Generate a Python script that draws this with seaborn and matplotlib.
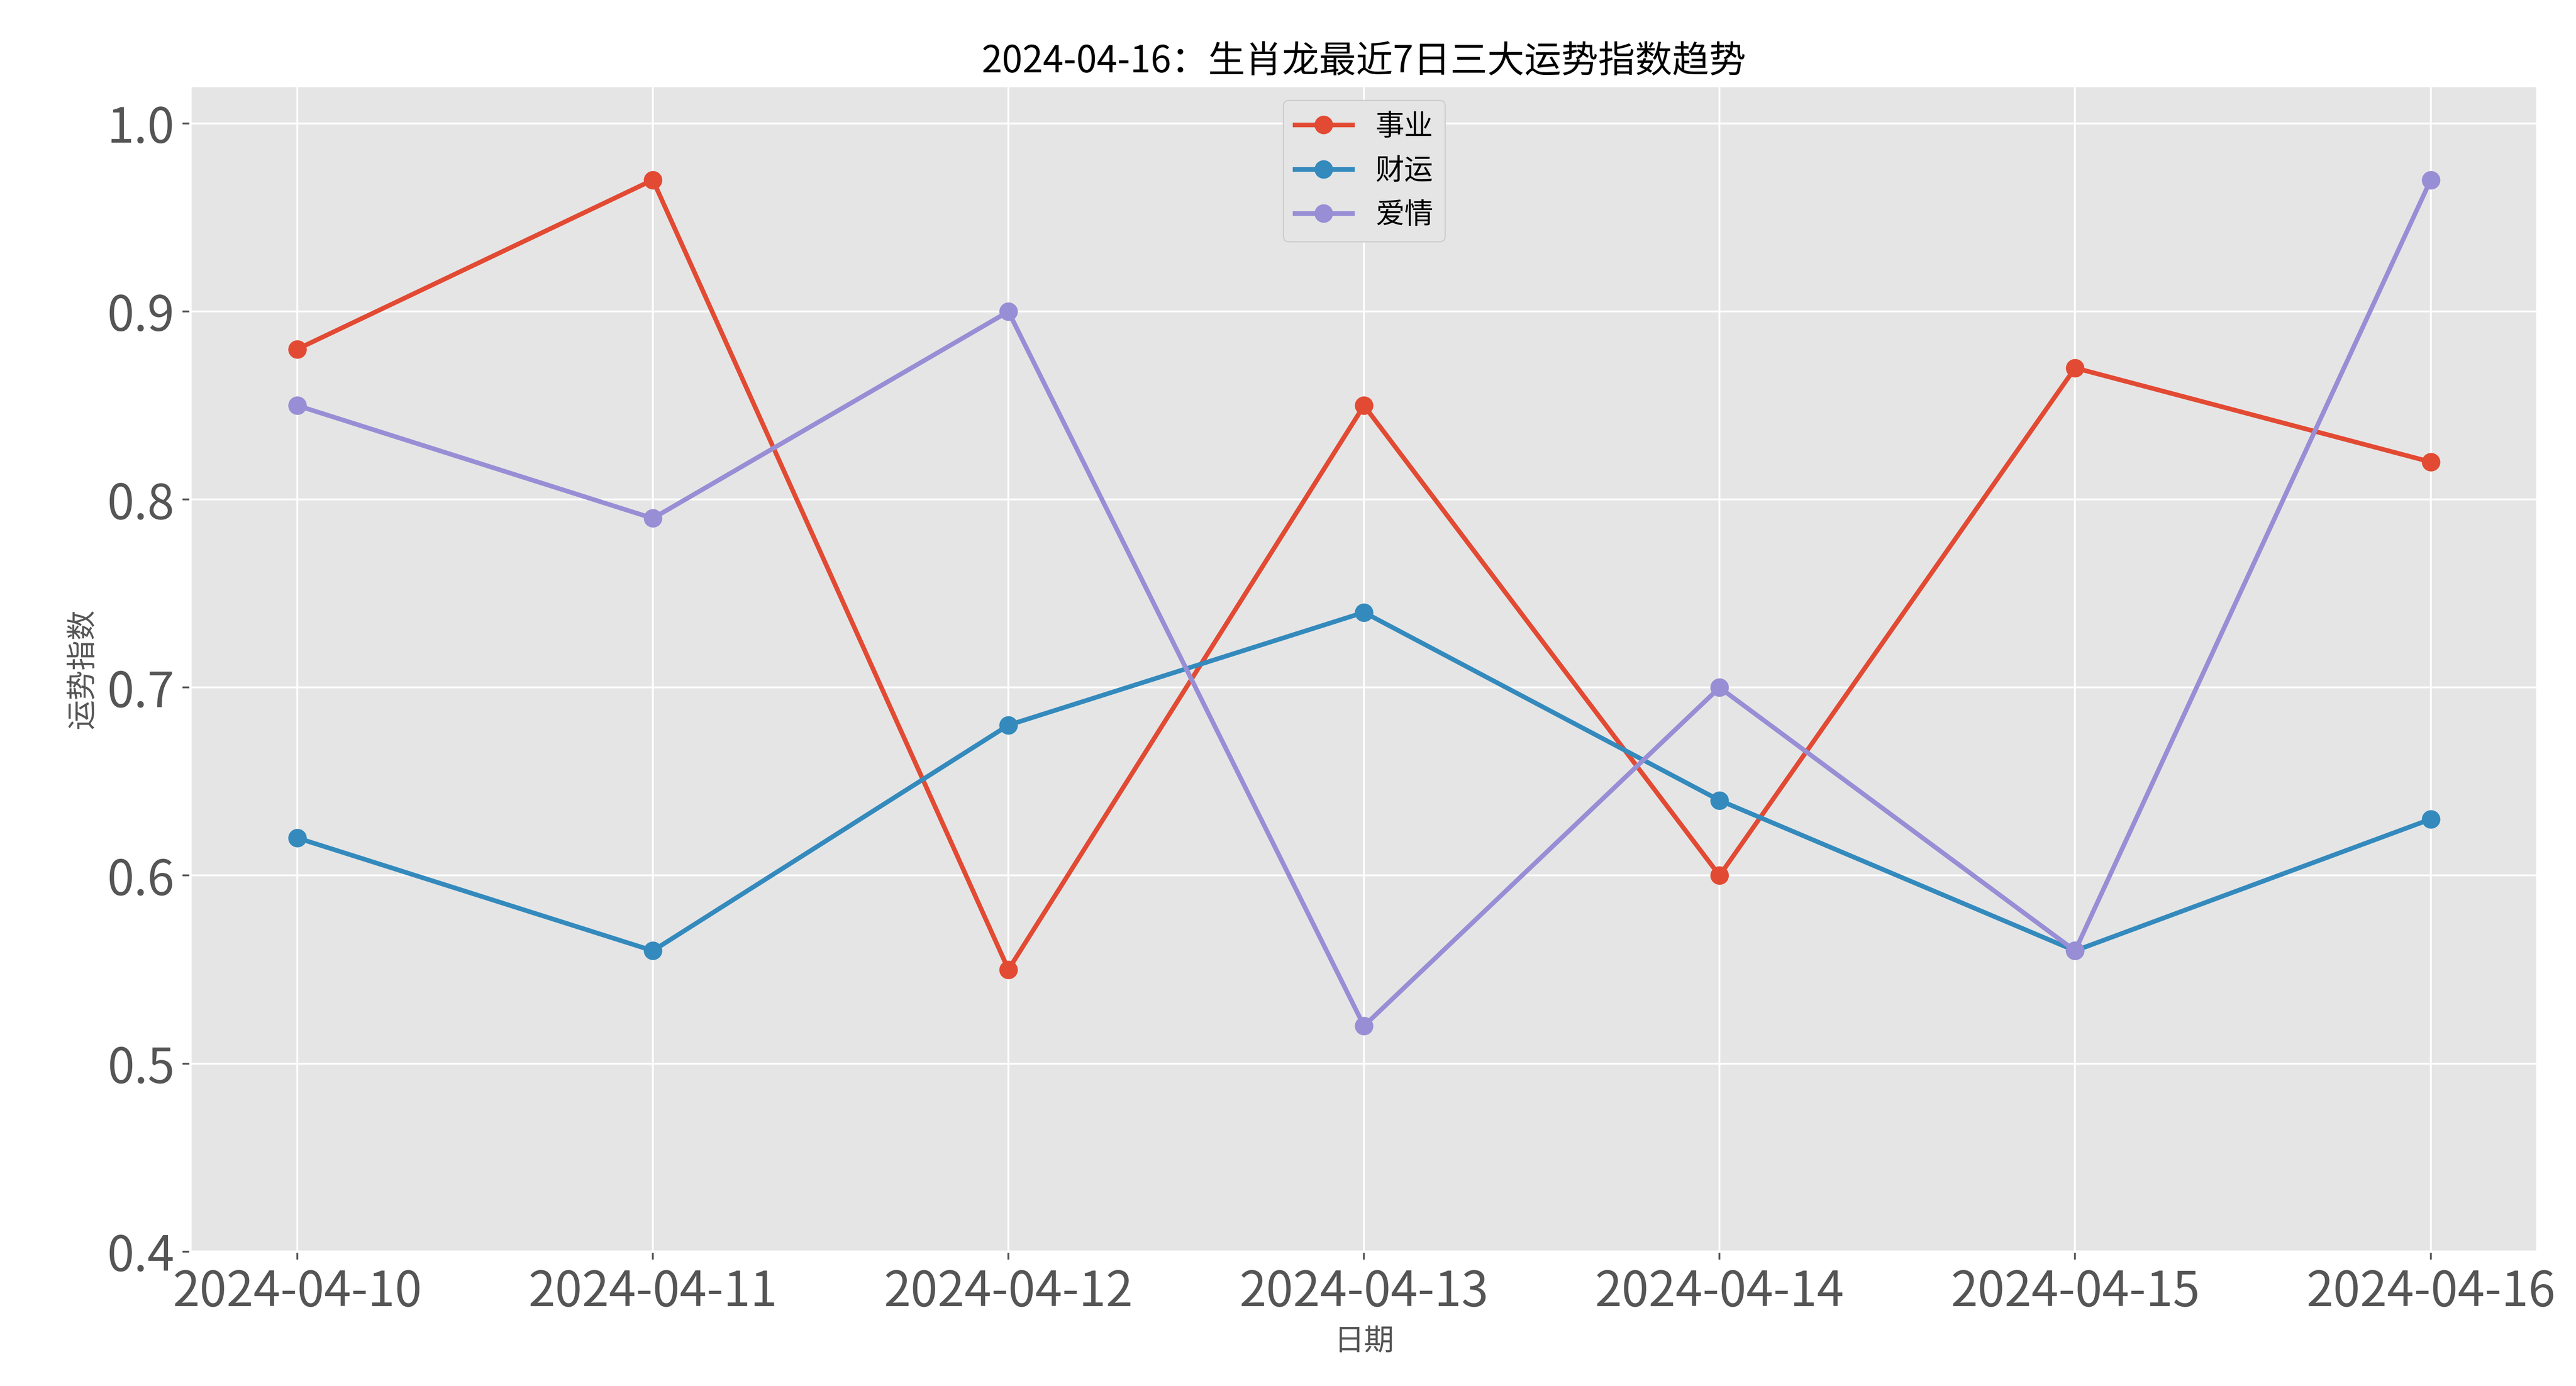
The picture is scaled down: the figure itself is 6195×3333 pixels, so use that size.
import matplotlib
matplotlib.use("Agg")
import matplotlib.pyplot as plt
import seaborn as sns
import pandas as pd

plt.style.use("ggplot")
plt.rcParams["font.family"] = ["Noto Sans CJK SC", "DejaVu Sans"]
plt.rcParams["axes.unicode_minus"] = False

DATES = ["2024-04-10", "2024-04-11", "2024-04-12", "2024-04-13",
         "2024-04-14", "2024-04-15", "2024-04-16"]
CAREER = [0.88, 0.97, 0.55, 0.85, 0.60, 0.87, 0.82]
WEALTH = [0.62, 0.56, 0.68, 0.74, 0.64, 0.56, 0.63]
LOVE = [0.85, 0.79, 0.90, 0.52, 0.70, 0.56, 0.97]
SERIES = ["事业", "财运", "爱情"]
COLORS = ["#E24A33", "#348ABD", "#988ED5"]

df = pd.DataFrame({"日期": DATES, "事业": CAREER, "财运": WEALTH, "爱情": LOVE})
long_df = df.melt(id_vars="日期", var_name="类别", value_name="指数")

fig, ax = plt.subplots(figsize=(15.4875, 8.3325))
for name, color in zip(SERIES, COLORS):
    sub = long_df[long_df["类别"] == name]
    sns.lineplot(data=sub, x="日期", y="指数", ax=ax, color=color, marker="o",
                 markersize=8, markeredgewidth=0, linewidth=2, label=name, sort=False)

ax.set_ylim(0.4, 1.02)
ax.set_title("2024-04-16：生肖龙最近7日三大运势指数趋势", fontsize=16)
ax.set_xlabel("日期", fontsize=13)
ax.set_ylabel("运势指数", fontsize=13)
ax.tick_params(axis="both", labelsize=21)
ax.legend(loc="upper center", bbox_to_anchor=(0.5, 1.0), fontsize=12.5,
          facecolor="#E5E5E5", framealpha=1)

plt.subplots_adjust(left=0.074, right=0.985, top=0.938, bottom=0.097)
plt.savefig("out.png", dpi=400)
